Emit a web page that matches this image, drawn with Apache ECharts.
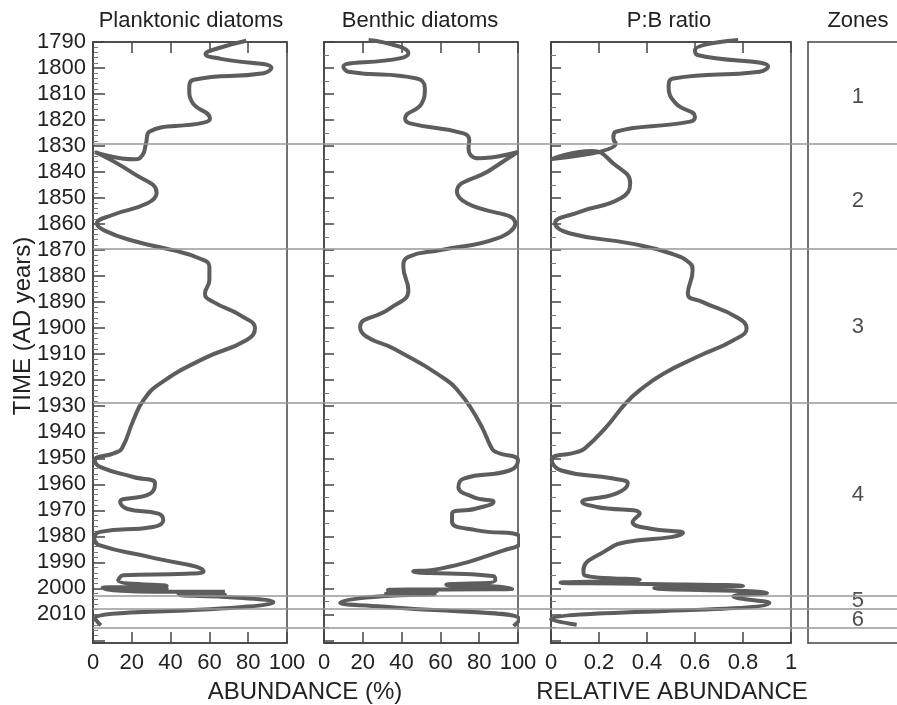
<!DOCTYPE html>
<html lang="en">
<head>
    <meta charset="UTF-8">
    <title>Diatom stratigraphy</title>
    <script src="https://cdn.jsdelivr.net/npm/echarts@6.0.0/dist/echarts.min.js"></script>
    <style>
        html, body { margin: 0; padding: 0; background: #fff; }
        #main { width: 897px; height: 705px; }
    </style>
</head>
<body>
    <div id="main"></div>

    <script>
        // [abundance %, year]
        var planktonic = [
            [79, 1789.5], [64, 1792.5], [58, 1794.6], [66, 1796.5], [92, 1800], [88, 1802], [52, 1804.5],
            [49.6, 1808], [51, 1813], [60.3, 1819.4], [57, 1821], [29, 1824.5], [27.3, 1829], [25.5, 1833.5],
            [21.5, 1835.1], [1, 1832.3], [20.8, 1840.5], [32.8, 1848], [28, 1852], [10, 1856.5], [2, 1859.8],
            [6, 1862.5], [21, 1866.5], [41, 1870], [55, 1873.2], [60, 1876.4], [60, 1881.5], [57.7, 1886.7],
            [62, 1889.9], [75.8, 1895], [83.5, 1900.1], [79, 1904.6], [57, 1911.7], [34.5, 1921.3], [26, 1927.7],
            [20.8, 1935.4], [14.8, 1946.3], [11, 1948], [1, 1950.8], [3.6, 1953.3], [20.8, 1957.2], [32, 1959.7],
            [29.4, 1963.6], [14, 1966.8], [17.4, 1969.4], [33.7, 1971.3], [36.2, 1973.8], [31, 1976.4], [3.6, 1978.3],
            [0.7, 1980.9], [3.6, 1983.5], [29.4, 1988], [57, 1993.5], [48, 1994.4], [15.6, 1995], [13, 1997],
            [38, 1999], [5, 1999.7], [38, 2000.1], [6, 2000.4], [44, 2001.3], [68, 2001.3], [44, 2002],
            [68, 2002.4], [45, 2002.6], [75, 2003.6], [93, 2005.3], [80, 2007], [1, 2011.7], [4, 2014.2]
        ];

        var benthic = [
            [23, 1789.2], [39, 1791.8], [43.5, 1794.3], [39, 1796.3], [10, 1799.5], [12.5, 1801.4], [47.8, 1804],
            [52, 1807.8], [50.4, 1813.6], [41.8, 1819.4], [44.4, 1821.3], [71.9, 1825.1], [74.9, 1827.7],
            [74.5, 1830.9], [79.7, 1834.7], [100, 1832.2], [85.7, 1839.2], [68.5, 1847.6], [73.7, 1852],
            [98.6, 1859.7], [89.2, 1865.5], [60, 1870], [43.5, 1872.6], [40.9, 1876.4], [43.5, 1885.4],
            [34, 1892.4], [18.6, 1899.5], [22, 1903.3], [35.8, 1907.8], [63.3, 1920], [70.2, 1925.1],
            [75.4, 1930.3], [81.4, 1938], [86.6, 1946.3], [89, 1947.7], [100, 1950.8], [96, 1954.6], [72, 1957.8],
            [69.3, 1961], [77, 1964.9], [87.4, 1966.8], [78, 1969.4], [66, 1971.3], [66, 1974.5], [78.8, 1977.7],
            [100.3, 1979.6], [101, 1982.2], [92.6, 1985.4], [60, 1992.4], [46, 1993.5], [87.4, 1995.3],
            [88.3, 1997], [63, 1998.6], [88, 1999.3], [97, 2000.2], [33, 2000.6], [58, 2001.2], [32, 2002],
            [57, 2002.3], [30, 2003], [8.3, 2005.5], [30, 2007], [101, 2012], [97.7, 2014.5]
        ];

        // [P:B ratio, year]
        var pbRatio = [
            [0.78, 1789.2], [0.6, 1793.1], [0.61, 1795], [0.905, 1799.5], [0.87, 1801.4], [0.51, 1804],
            [0.49, 1807.2], [0.52, 1813.6], [0.6, 1818.7], [0.58, 1820.6], [0.27, 1824.5], [0.26, 1827],
            [0.27, 1829], [0.003, 1835], [0.17, 1831.9], [0.26, 1836.7], [0.33, 1844.3], [0.29, 1850.1],
            [0.12, 1855.3], [0.017, 1859.7], [0.08, 1863.6], [0.33, 1867.4], [0.5, 1871.3], [0.58, 1875.1],
            [0.59, 1877.7], [0.57, 1886.7], [0.63, 1889.9], [0.77, 1895.6], [0.815, 1900.1], [0.76, 1904.6],
            [0.61, 1911], [0.47, 1917.4], [0.37, 1923.8], [0.31, 1929], [0.23, 1938], [0.14, 1946.3],
            [0.107, 1947.6], [0.003, 1950.5], [0.04, 1954.6], [0.26, 1957.8], [0.32, 1959.7], [0.27, 1963.6],
            [0.13, 1966.8], [0.19, 1968.7], [0.37, 1971.3], [0.34, 1974.5], [0.41, 1977], [0.55, 1978.7],
            [0.5, 1980.3], [0.315, 1982.2], [0.23, 1985.4], [0.135, 1993.1], [0.14, 1995], [0.37, 1996.7],
            [0.04, 1997.8], [0.35, 1998.2], [0.8, 1999.1], [0.43, 1999.9], [0.9, 2001.8], [0.76, 2003.1],
            [0.91, 2005.5], [0.0, 2012], [0.107, 2014]
        ];

        var zoneBounds = [1829, 1869.5, 1928.6, 2003, 2008, 2015];
        var zoneNames = ['1', '2', '3', '4', '5', '6'];
        var zoneLabelYears = [1811, 1851, 1899.5, 1964, 2005, 2012];

        var yearMin = 1790, yearMax = 2021;
        var font = 'Liberation Sans, Arial, sans-serif';
        var ink = '#222';
        var frame = '#444';
        var curve = '#5d5d5d';

        var chart = echarts.init(document.getElementById('main'));

        function grid(left, width) {
            return { left: left, width: width, top: 42, bottom: 62, show: true, borderColor: frame, borderWidth: 1.5, backgroundColor: 'transparent' };
        }

        function xBottom(gi, max, step) {
            return {
                type: 'value', gridIndex: gi, min: 0, max: max, interval: step, position: 'bottom',
                axisLine: { show: true, lineStyle: { color: frame, width: 1.5 } },
                axisTick: { show: true, inside: true, length: 11, lineStyle: { color: frame, width: 1.5 } },
                axisLabel: { show: true, color: ink, fontSize: 22, fontFamily: font, margin: 9 },
                splitLine: { show: false }
            };
        }
        function xTop(gi, max, step) {
            return {
                type: 'value', gridIndex: gi, min: 0, max: max, interval: step, position: 'top',
                axisLine: { show: true, lineStyle: { color: frame, width: 1.5 } },
                axisTick: { show: true, inside: true, length: 11, lineStyle: { color: frame, width: 1.5 } },
                axisLabel: { show: false },
                splitLine: { show: false }
            };
        }
        function yTime(gi, labels, majorLen, minorSplit) {
            return {
                type: 'value', gridIndex: gi, inverse: true, min: yearMin, max: yearMax, interval: 10,
                axisLine: { show: true, lineStyle: { color: frame, width: 1.5 } },
                axisTick: { show: true, inside: true, length: majorLen, lineStyle: { color: frame, width: 1.5 } },
                minorTick: { show: true, splitNumber: minorSplit, length: 5, lineStyle: { color: '#777', width: 1 } },
                axisLabel: {
                    show: labels, color: ink, fontSize: 22, fontFamily: font, margin: 7,
                    formatter: function (v) { return v > 2010 ? '' : String(v); }
                },
                splitLine: { show: false }
            };
        }
        function plainAxis(gi, extra, showLine) {
            return Object.assign({
                type: 'value', gridIndex: gi,
                axisLine: { show: !!showLine, lineStyle: { color: frame, width: 1.5 } },
                axisTick: { show: false }, axisLabel: { show: false }, splitLine: { show: false }
            }, extra);
        }
        function curveSeries(xi, yi, data) {
            return {
                type: 'line', xAxisIndex: xi, yAxisIndex: yi, data: data, smooth: 0.5, showSymbol: false,
                clip: false, z: 4, lineStyle: { color: curve, width: 4 }, silent: true
            };
        }

        var texts = [
            ['Planktonic diatoms', 191, 21, 22],
            ['Benthic diatoms', 420, 21, 22],
            ['P:B ratio', 669, 21, 22],
            ['Zones', 858, 21, 22],
            ['ABUNDANCE (%)', 305, 692, 24],
            ['RELATIVE ABUNDANCE', 672, 692, 24]
        ];

        var option = {
            animation: false,
            backgroundColor: '#fff',
            grid: [grid(93, 194), grid(324, 194), grid(551, 240),
                { left: 808, right: 0, top: 42, bottom: 62, show: false },
                { left: 93, right: 0, top: 42, bottom: 62, show: false }],
            xAxis: [
                xBottom(0, 100, 20), xTop(0, 100, 20),
                xBottom(1, 100, 20), xTop(1, 100, 20),
                xBottom(2, 1, 0.2), xTop(2, 1, 0.2),
                plainAxis(3, { min: 0, max: 1, position: 'bottom' }, true),
                plainAxis(4, { min: 0, max: 1 }, false),
                plainAxis(3, { min: 0, max: 1, position: 'top' }, true)
            ],
            yAxis: [
                yTime(0, true, 12, 5),
                yTime(1, false, 10, 2),
                yTime(2, false, 10, 2),
                plainAxis(3, { inverse: true, min: yearMin, max: yearMax, position: 'left' }, true),
                plainAxis(4, { inverse: true, min: yearMin, max: yearMax }, false)
            ],
            graphic: texts.map(function (t) {
                return {
                    type: 'text', x: t[1], y: t[2], silent: true,
                    style: { text: t[0], textAlign: 'center', textVerticalAlign: 'middle', fill: ink, font: t[3] + 'px ' + font }
                };
            }).concat([{
                type: 'text', x: 23, y: 326, rotation: Math.PI / 2, silent: true,
                style: { text: 'TIME (AD years)', textAlign: 'center', textVerticalAlign: 'middle', fill: ink, font: '24px ' + font }
            }]),
            series: [
                curveSeries(0, 0, planktonic),
                curveSeries(2, 1, benthic),
                curveSeries(4, 2, pbRatio),
                {
                    type: 'scatter', xAxisIndex: 6, yAxisIndex: 3, symbolSize: 1, silent: true,
                    itemStyle: { color: 'rgba(0,0,0,0)' },
                    data: zoneNames.map(function (n, i) { return { value: [0.56, zoneLabelYears[i]], name: n }; }),
                    label: { show: true, position: 'inside', formatter: '{b}', color: ink, fontSize: 22, fontFamily: font }
                },
                {
                    type: 'line', xAxisIndex: 7, yAxisIndex: 4, data: [], z: 1, silent: true,
                    markLine: {
                        silent: true, symbol: 'none', animation: false,
                        label: { show: false },
                        lineStyle: { color: '#999', width: 1.5, type: 'solid' },
                        data: zoneBounds.map(function (y) { return { yAxis: y }; })
                    }
                }
            ]
        };

        chart.setOption(option);
    </script>
</body>
</html>
